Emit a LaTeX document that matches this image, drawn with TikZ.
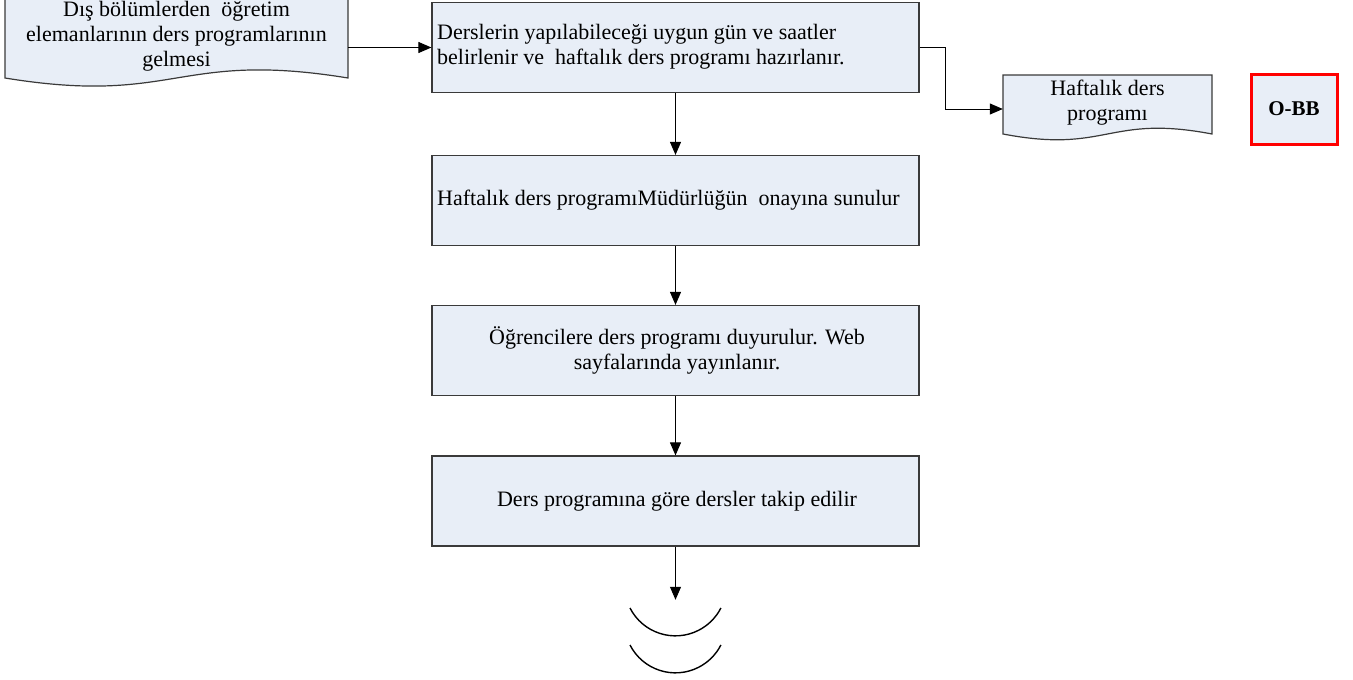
\documentclass[tikz,border=0pt]{standalone}
\usepackage{fontspec}
\setmainfont{Liberation Serif}
\usetikzlibrary{arrows.meta}
\definecolor{boxfill}{HTML}{E8EEF7}
\definecolor{boxline}{HTML}{3A3A3A}
\begin{document}
\begin{tikzpicture}[x=1pt,y=-1pt,
  txt/.style={font=\fontsize{22}{25}\selectfont, text=black, inner sep=0pt},
  procbox/.style={draw=boxline, fill=boxfill, line width=1.2pt, minimum width=487pt, minimum height=90pt, inner sep=0pt},
  docshape/.style={draw=boxline, fill=boxfill, line width=1.2pt},
  arr/.style={-{Triangle[length=13pt,width=11pt]}, line width=1pt, draw=black},
  conn/.style={line width=1pt, draw=black}
]
\useasboundingbox (0,0) rectangle (1353,680);

% document shape 1
\path[docshape] (5,-5) -- (348,-5) -- (348,78) .. controls (176.5,50) and (176.5,106) .. (5,78) -- cycle;
\node[txt, align=center, minimum width=343pt, minimum height=80pt] (d1) at (176.5,36)
  {Dış bölümlerden\ \ öğretim\\elemanlarının ders programlarının\\gelmesi};

% process boxes
\node[procbox] (b1) at (675.5,47.5) {};
\node[txt, align=left, anchor=west] (t1) at (437,47) {Derslerin yapılabileceği uygun gün ve saatler\\belirlenir ve\ \ haftalık ders programı hazırlanır.};
\node[procbox] (b2) at (675.5,200.5) {};
\node[txt, anchor=west] (t2) at (437,200) {Haftalık ders programıMüdürlüğün\ \ onayına sunulur};
\node[procbox] (b3) at (675.5,350.5) {};
\node[txt, align=center] (t3) at (677,350) {Öğrencilere ders programı duyurulur. Web\\sayfalarında yayınlanır.};
\node[procbox] (b4) at (675.5,501) {};
\node[txt] (t4) at (677,501) {Ders programına göre dersler takip edilir};

% document shape 2
\path[docshape] (1003,75) -- (1212,75) -- (1212,134) .. controls (1107.5,114) and (1107.5,154) .. (1003,134) -- cycle;
\node[txt, align=center, minimum width=209pt, minimum height=59pt] (d2) at (1107.5,103)
  {Haftalık ders\\programı};

% O-BB
\node[draw=red, fill=boxfill, line width=3pt, minimum width=86pt, minimum height=70pt, inner sep=0pt,
  font=\fontsize{21}{24}\selectfont\bfseries] (obb) at (1294,109) {O-BB};

% off-page connector
\node[minimum width=92pt, minimum height=76pt, inner sep=0pt] (opc) at (675.5,638) {};
\draw[line width=1.4pt] ([xshift=-45.5pt,yshift=30pt]opc.center) arc[start angle=153, end angle=27, radius=51];
\draw[line width=1.4pt] ([xshift=-45.5pt,yshift=-7pt]opc.center) arc[start angle=153, end angle=27, radius=51];

% connectors
\draw[arr] (d1.east |- b1.west) -- (b1.west);
\coordinate (k1) at (945,109);
\draw[arr] (b1.east) -- (b1.east -| k1) -- (k1) -- (d2.west |- k1);
\draw[arr] (b1.south) -- (b2.north);
\draw[arr] (b2.south) -- (b3.north);
\draw[arr] (b3.south) -- (b4.north);
\draw[arr] (b4.south) -- (opc.north);
\end{tikzpicture}
\end{document}
